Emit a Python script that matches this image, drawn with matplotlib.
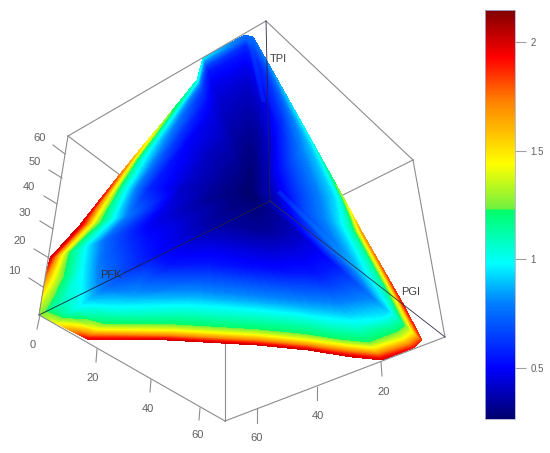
import numpy as np
import matplotlib
matplotlib.use('Agg')
import matplotlib.pyplot as plt
import matplotlib.tri as mtri
from matplotlib.colors import LinearSegmentedColormap, Normalize
from matplotlib.cm import ScalarMappable

plt.rcParams['font.family'] = ['Liberation Sans', 'DejaVu Sans']

# colour scale (value, colour)
scale_values = [0.265, 0.5, 0.8, 0.98, 1.229, 1.231, 1.44, 1.73, 1.93, 2.147]
scale_colors = ['#00006e', '#0000ff', '#0080ff', '#00ffff', '#00ff66', '#70f040',
                '#ffff00', '#ff8000', '#ff0000', '#800000']
cbar_ticks = [0.5, 1, 1.5, 2]
cbar_labels = ['0.5', '1', '1.5', '2']

# surface outline in picture pixels, clockwise from the PFK corner
outline_x = [39, 44, 50, 80, 110, 133, 163, 197, 203, 245, 253, 268, 290, 313, 343, 362,
             402, 422, 413, 382, 352, 308, 257, 167, 87, 55]
outline_y = [315, 285, 258, 225, 187, 158, 122, 80, 58, 35, 37, 63, 102, 143, 197, 232,
             302, 340, 348, 360, 357, 350, 345, 340, 339, 323]
center_x = 250
center_y = 190
center_value = 0.26

# fraction of the way from outline to centre, and the value read there on each spoke
spoke_fracs = [0, 0.03, 0.06, 0.10, 0.19, 0.28, 0.50, 0.75]
spoke_values = [
    [1.25, 1.22, 1.15, 1.10, 1.00, 0.80, 0.55, 0.38],
    [1.60, 1.45, 1.35, 1.20, 0.97, 0.76, 0.52, 0.38],
    [2.00, 1.70, 1.45, 1.20, 0.95, 0.74, 0.48, 0.36],
    [2.00, 1.80, 1.55, 1.30, 1.00, 0.78, 0.46, 0.33],
    [1.85, 1.50, 1.25, 1.05, 0.78, 0.58, 0.42, 0.33],
    [1.60, 1.25, 1.05, 0.95, 0.72, 0.55, 0.42, 0.33],
    [1.30, 1.05, 0.92, 0.80, 0.62, 0.50, 0.40, 0.33],
    [1.05, 0.85, 0.72, 0.62, 0.52, 0.46, 0.40, 0.33],
    [0.95, 0.80, 0.65, 0.55, 0.48, 0.44, 0.38, 0.32],
    [0.75, 0.70, 0.60, 0.55, 0.48, 0.43, 0.36, 0.30],
    [0.75, 0.72, 0.65, 0.58, 0.50, 0.44, 0.36, 0.30],
    [0.80, 0.70, 0.65, 0.60, 0.55, 0.45, 0.36, 0.30],
    [0.92, 0.85, 0.78, 0.72, 0.62, 0.55, 0.42, 0.33],
    [1.00, 0.92, 0.88, 0.85, 0.78, 0.72, 0.55, 0.36],
    [1.30, 1.05, 0.98, 0.92, 0.85, 0.78, 0.62, 0.40],
    [1.65, 1.42, 1.25, 1.10, 0.95, 0.85, 0.68, 0.40],
    [1.90, 1.60, 1.35, 1.15, 1.00, 0.88, 0.70, 0.44],
    [1.85, 1.60, 1.40, 1.20, 0.92, 0.80, 0.55, 0.38],
    [1.90, 1.65, 1.42, 1.22, 0.97, 0.84, 0.56, 0.38],
    [2.00, 1.75, 1.50, 1.23, 1.05, 0.88, 0.55, 0.37],
    [2.00, 1.75, 1.50, 1.23, 1.05, 0.88, 0.55, 0.35],
    [2.00, 1.70, 1.45, 1.22, 1.05, 0.86, 0.52, 0.33],
    [2.00, 1.70, 1.45, 1.22, 1.05, 0.86, 0.52, 0.33],
    [2.00, 1.70, 1.45, 1.23, 1.05, 0.88, 0.55, 0.35],
    [1.95, 1.70, 1.45, 1.23, 1.02, 0.86, 0.54, 0.36],
    [1.40, 1.25, 1.12, 1.03, 0.87, 0.74, 0.53, 0.37],
]

# faint lighter stripes on the surface, along the right and top arms
stripe_right = [(280, 193), (385, 297)]
stripe_top = [(250, 43), (263, 100)]

# box corners in picture pixels
top = (266, 21)
left_top = (68, 136)
right_top = (413, 160)
front_top = (225, 254)
back = (270, 201)
left_bottom = (39, 315)
right_bottom = (445, 337)
front_bottom = (225, 421)

# axis ticks: label, tick start, tick end, label position
z_ticks = [('10', (43, 287), (29, 278), (14, 271)), ('20', (49, 258), (34, 249), (20, 241)),
           ('30', (53, 229), (40, 221), (25, 213)), ('40', (57, 204), (44, 196), (29, 187)),
           ('50', (62, 178), (49, 170), (35, 162)), ('60', (65, 154), (53, 145), (40, 138))]
x_ticks = [('0', (40, 315), (37, 329), (33, 345)), ('20', (97, 349), (96, 362), (93, 378)),
           ('40', (151, 380), (150, 392), (148, 409)), ('60', (200, 408), (199, 420), (198, 435))]
y_ticks = [('60', (257, 409), (257, 423), (257, 438)), ('40', (317, 387), (317, 400), (318, 416)),
           ('20', (381, 362), (382, 376), (384, 392))]
line_color = '#8c8c8c'
text_color = '#606060'


def edge(ax, p, q, zorder=1, color=line_color, lw=0.8, alpha=1):
    ax.plot([p[0], q[0]], [p[1], q[1]], color=color, lw=lw, zorder=zorder, alpha=alpha)


fig = plt.figure(figsize=(5.5, 4.53), dpi=100)
ax = fig.add_axes([0, 0, 1, 1])
ax.set_xlim(0, 550)
ax.set_ylim(453, 0)
ax.axis('off')

cmap = LinearSegmentedColormap.from_list(
    'bar', [((v - scale_values[0]) / (scale_values[-1] - scale_values[0]), c)
            for v, c in zip(scale_values, scale_colors)], N=512)
norm = Normalize(scale_values[0], scale_values[-1])

# mesh of the surface: one spoke per outline point, all meeting in the centre
n_knots = len(outline_x)
n_rings = len(spoke_fracs)
xs, ys, zs = [], [], []
for i in range(n_knots):
    for j in range(n_rings):
        f = spoke_fracs[j]
        xs.append(outline_x[i] + (center_x - outline_x[i]) * f)
        ys.append(outline_y[i] + (center_y - outline_y[i]) * f)
        zs.append(spoke_values[i][j])
xs.append(center_x)
ys.append(center_y)
zs.append(center_value)
center_id = n_knots * n_rings
triangles = []
for i in range(n_knots):
    k = (i + 1) % n_knots
    for j in range(n_rings - 1):
        a, b = i * n_rings + j, k * n_rings + j
        c, d = k * n_rings + j + 1, i * n_rings + j + 1
        triangles += [[a, b, c], [a, c, d]]
    triangles.append([i * n_rings + n_rings - 1, k * n_rings + n_rings - 1, center_id])
tri = mtri.Triangulation(xs, ys, triangles)

# hidden front edges go below the surface
edge(ax, left_top, front_top)
edge(ax, right_top, front_top)
edge(ax, front_top, front_bottom)

ax.tricontourf(tri, zs, levels=np.linspace(scale_values[0], scale_values[-1], 200),
               cmap=cmap, norm=norm, extend='both', zorder=2)

edge(ax, stripe_right[0], stripe_right[1], 2.5, '#00c0ff', 3, 0.18)
edge(ax, stripe_top[0], stripe_top[1], 2.5, '#0090ff', 3, 0.18)

# outer box
edge(ax, top, left_top, 3)
edge(ax, top, right_top, 3)
edge(ax, left_top, left_bottom, 3)
edge(ax, right_top, right_bottom, 3)
edge(ax, left_bottom, front_bottom, 3)
edge(ax, front_bottom, right_bottom, 3)

# back edges show through the surface
edge(ax, back, top, 3, '#202040', 0.6)
edge(ax, back, left_bottom, 3, '#202040', 0.6)
edge(ax, back, right_bottom, 3, '#303050', 0.6)

for ticks in (z_ticks, x_ticks, y_ticks):
    for label, p, q, pos in ticks:
        edge(ax, p, q, 3)
        ax.text(pos[0], pos[1], label, fontsize=8, color=text_color, ha='center', va='center')

ax.text(270, 59, 'TPI', fontsize=8, color='#404040', ha='left', va='center', zorder=4)
ax.text(100, 275, 'PFK', fontsize=8, color='#303040', ha='left', va='center', zorder=4)
ax.text(401, 292, 'PGI', fontsize=8, color='#404040', ha='left', va='center', zorder=4)

# colour bar
cax = fig.add_axes([485 / 550, 1 - 419 / 453, 30 / 550, 409 / 453])
cb = fig.colorbar(ScalarMappable(norm=norm, cmap=cmap), cax=cax)
cb.set_ticks(cbar_ticks)
cb.set_ticklabels(cbar_labels)
cb.ax.tick_params(length=8, width=0.8, color='#a0a0a0', labelcolor=text_color, labelsize=7, pad=3)
cb.outline.set_edgecolor('#b0b0d0')
cb.outline.set_linewidth(0.6)

fig.savefig('out.png', dpi=100)
